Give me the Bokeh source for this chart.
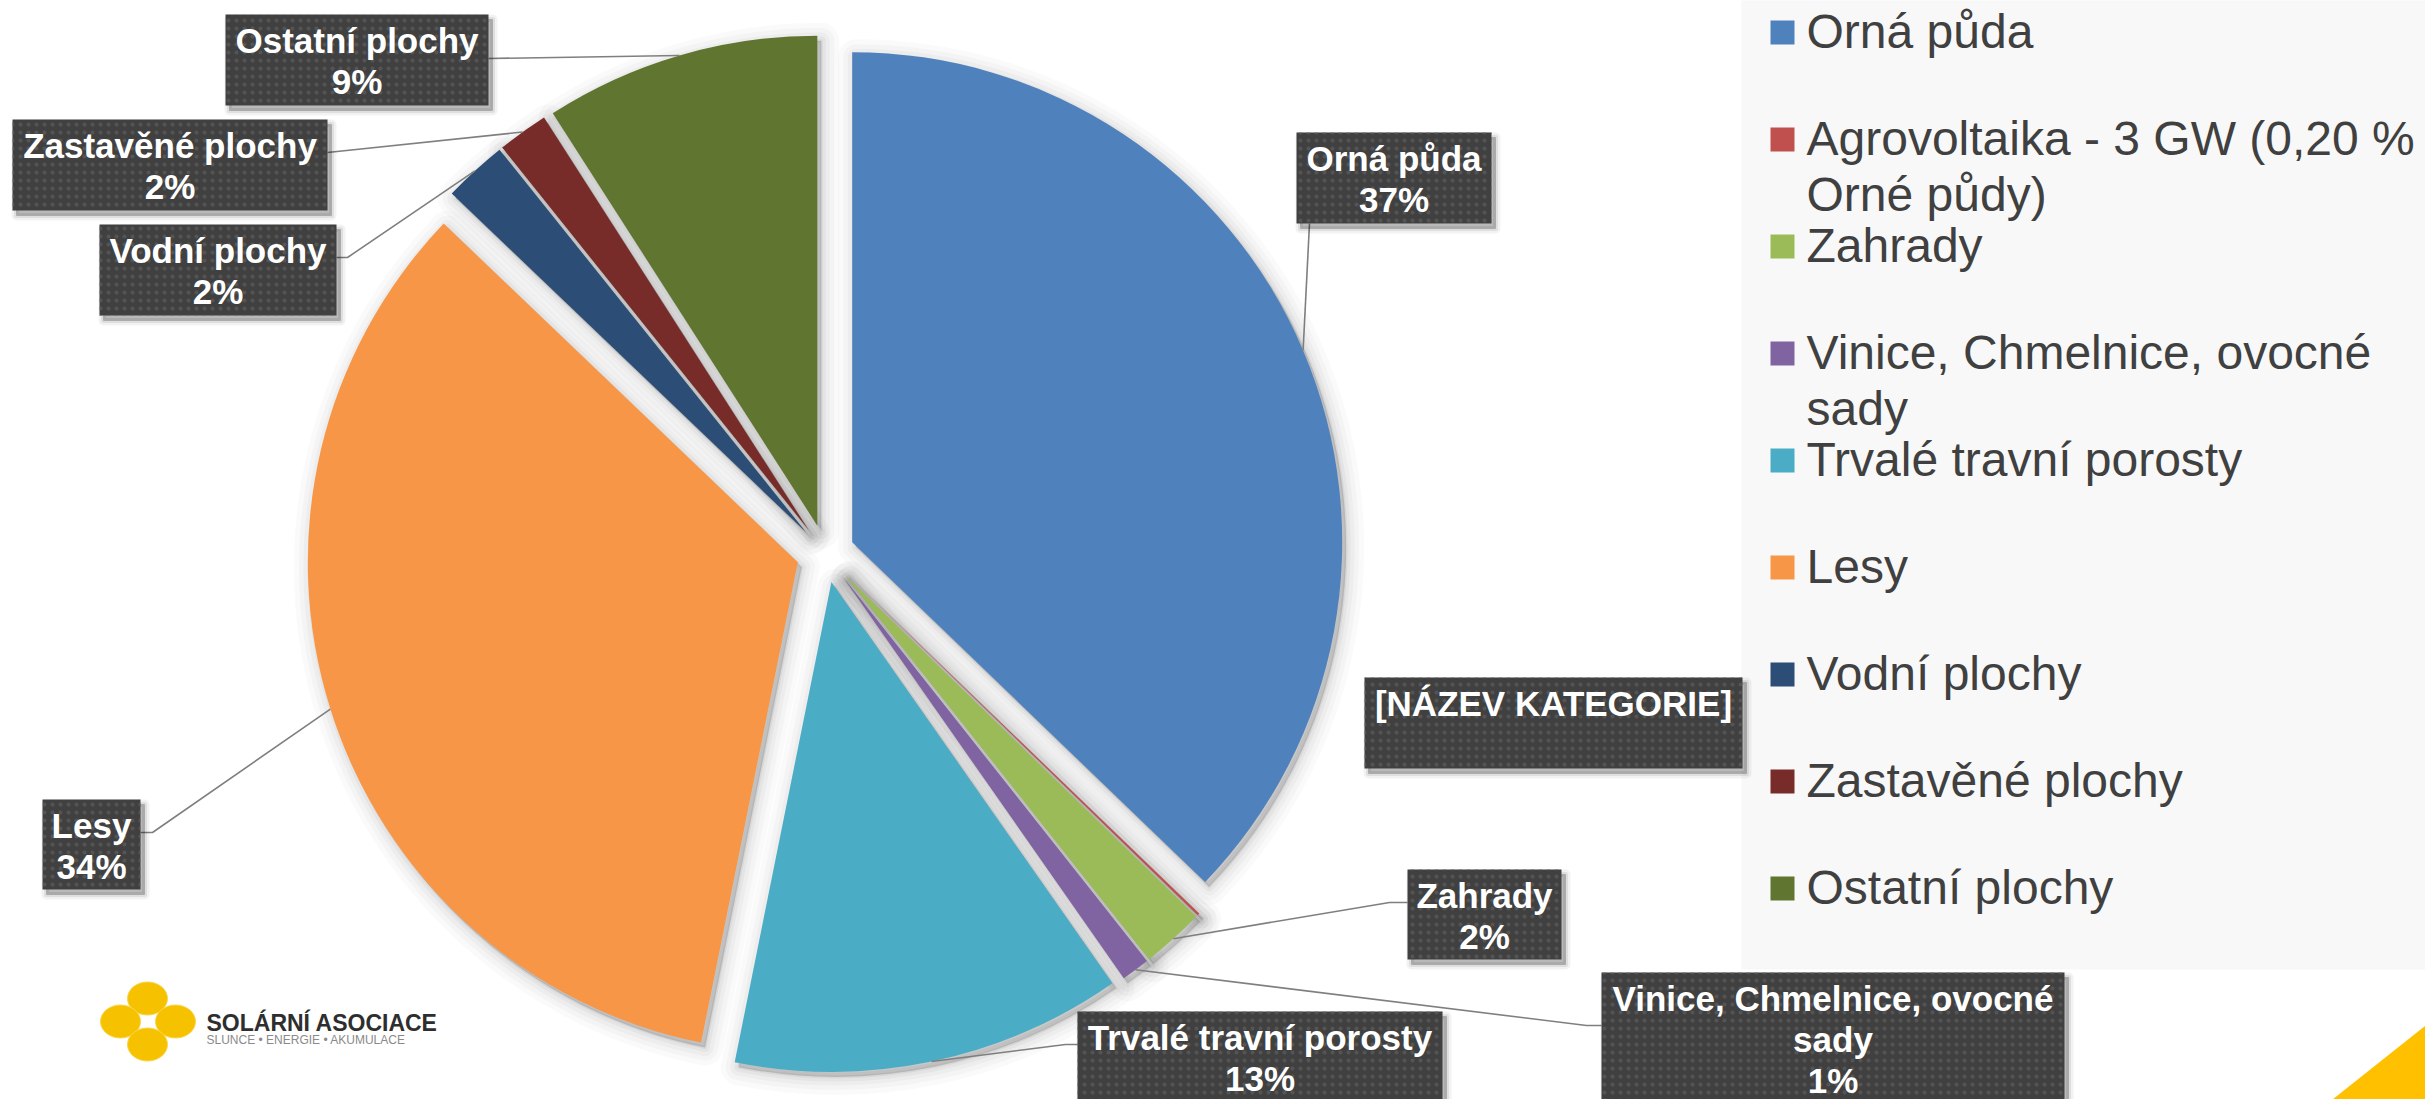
import textwrap
import numpy as np
import pandas as pd
from bokeh.plotting import figure
from bokeh.models import Range1d, ColumnDataSource
from bokeh.core.properties import value
from bokeh.embed import file_html
from bokeh.resources import INLINE

# ---------------- data ----------------
categories = [
    "Orná půda",
    "Agrovoltaika - 3 GW (0,20 % Orné půdy)",
    "Zahrady",
    "Vinice, Chmelnice, ovocné sady",
    "Trvalé travní porosty",
    "Lesy",
    "Vodní plochy",
    "Zastavěné plochy",
    "Ostatní plochy",
]
areas_kha = [2934, 6, 163, 74, 1016, 2680, 166, 132, 716]   # tis. ha
show_percent = [True, False, True, True, True, True, True, True, True]
agro_label = "[NÁZEV KATEGORIE]"

colors = ["#4F81BD", "#C0504D", "#9BBB59", "#8064A2", "#4BACC6",
          "#F79646", "#2C4D75", "#772C2A", "#5F7530"]

# ---------------- layout (reference pixel coords, y down) ----------------
W, H = 2425, 1099
def fy(Y):
    return H - Y

CX, CY = 825, fy(553)
R = 490
EXPLODE = 29

boxes = [
    dict(l=1296, r=1491, t=132, b=223, att=[(1309, 223)]),
    dict(l=1364, r=1742, t=677, b=768, att=None),
    dict(l=1407, r=1561, t=869, b=959, att=[(1407, 902), (1389, 902)]),
    dict(l=1601, r=2064, t=972, b=1110, att=[(1601, 1025), (1586, 1025)]),
    dict(l=1077, r=1442, t=1011, b=1110, att=[(1077, 1044), (1065, 1044)]),
    dict(l=42, r=140, t=799, b=889, att=[(140, 832), (152, 832)]),
    dict(l=99, r=336, t=224, b=315, att=[(336, 257), (347, 257)]),
    dict(l=12, r=327, t=119, b=210, att=[(327, 152)]),
    dict(l=225, r=488, t=14, b=105, att=[(488, 58)]),
]

FONT = value("Liberation Sans")

# ---------------- derived ----------------
df = pd.DataFrame({"cat": categories, "area": areas_kha, "color": colors})
total = df["area"].sum()
df["frac"] = df["area"] / total
df["t_end"] = df["frac"].cumsum() * 2 * np.pi
df["t_start"] = df["t_end"] - df["frac"] * 2 * np.pi
df["t_mid"] = (df["t_end"] + df["t_start"]) / 2
df["start"] = np.pi / 2 - df["t_end"]
df["end"] = np.pi / 2 - df["t_start"]
df["x"] = CX + EXPLODE * np.sin(df["t_mid"])
df["y"] = CY + EXPLODE * np.cos(df["t_mid"])
df["ax"] = df["x"] + R * np.sin(df["t_mid"])
df["ay"] = df["y"] + R * np.cos(df["t_mid"])
df["pct"] = (df["frac"] * 100).round().astype(int).astype(str) + "%"

src = ColumnDataSource(df)
shadow = df.copy()
shadow["x"] = shadow["x"] + 4
shadow["y"] = shadow["y"] - 5
ssrc = ColumnDataSource(shadow)

p = figure(width=W, height=H, output_backend="svg", toolbar_location=None,
           x_range=Range1d(0, W), y_range=Range1d(0, H),
           x_axis_location=None, y_axis_location=None, min_border=0,
           background_fill_color="white", border_fill_color="white")
p.outline_line_color = None
p.grid.visible = False

# legend background
p.quad(left=1741, right=W + 5, top=fy(-5), bottom=fy(969), fill_color="#F8F8F8", line_color=None)

# yellow corner decoration
p.patch([2332, W + 5, W + 5], [fy(1099), fy(1021), fy(1099)], fill_color="#FFC000", line_color=None)

# pie shadows (soft glow)
for lw, a in [(36, 0.018), (26, 0.022), (17, 0.028), (9, 0.035), (3, 0.05)]:
    p.wedge(x="x", y="y", radius=R, start_angle="start", end_angle="end", source=ssrc,
            fill_color="#000000", fill_alpha=a, line_color="#000000", line_alpha=a,
            line_width=lw, line_join="round")

# pie slices
p.wedge(x="x", y="y", radius=R, start_angle="start", end_angle="end", source=src,
        fill_color="color", line_color=None)

# leader lines
xs, ys = [], []
for i, b in enumerate(boxes):
    if b["att"] is None:
        continue
    xs.append([a[0] for a in b["att"]] + [df["ax"][i]])
    ys.append([fy(a[1]) for a in b["att"]] + [df["ay"][i]])
p.multi_line(xs, ys, line_color="#7F7F7F", line_width=1.6)

# label boxes
for i, b in enumerate(boxes):
    for lw, a in [(10, 0.05), (5, 0.08), (1, 0.12)]:
        p.quad(left=b["l"] + 4, right=b["r"] + 4, top=fy(b["t"] + 5), bottom=fy(b["b"] + 5),
               fill_color="#000000", fill_alpha=a, line_color="#000000", line_alpha=a,
               line_width=lw, line_join="round")
    p.quad(left=b["l"], right=b["r"], top=fy(b["t"]), bottom=fy(b["b"]),
           fill_color="#404040", line_color=None,
           hatch_pattern="dot", hatch_color="#5C5C5C", hatch_scale=8, hatch_weight=2, hatch_alpha=0.7)

    if show_percent[i]:
        lines = textwrap.wrap(df["cat"][i], 27) + [df["pct"][i]]
    else:
        lines = [agro_label]
    cxb = (b["l"] + b["r"]) / 2
    for k, ln in enumerate(lines):
        capc = b["t"] + 26 + 41 * k
        p.text(x=[cxb], y=[fy(capc)], text=[ln], text_font=FONT, text_font_style="bold",
               text_font_size="35px", text_color="white", text_align="center",
               text_baseline="alphabetic")

# legend
for i, cat in enumerate(categories):
    capc = 31 + 107 * i
    p.quad(left=1770, right=1794, top=fy(capc + 1 - 12), bottom=fy(capc + 1 + 12),
           fill_color=colors[i], line_color=None)
    for k, ln in enumerate(textwrap.wrap(cat, 27)):
        cc = capc + 56 * k
        p.text(x=[1806], y=[fy(cc)], text=[ln], text_font=FONT,
               text_font_size="48px", text_color="#404040", text_align="left",
               text_baseline="alphabetic")

# logo
lx, ly = 147, fy(1021)
p.ellipse(x=[lx, lx - 27, lx + 28, lx], y=[ly + 23, ly, ly, ly - 23], width=40, height=33,
          fill_color="#F6C200", line_color="#F9D54A", line_width=1)
p.text(x=[206], y=[fy(1022)], text=["SOLÁRNÍ ASOCIACE"], text_font=FONT, text_font_style="bold",
       text_font_size="23px", text_color="#2E2E2E", text_baseline="alphabetic")
p.text(x=[206], y=[fy(1039)], text=["SLUNCE • ENERGIE • AKUMULACE"], text_font=FONT,
       text_font_size="12px", text_color="#8A8A8A", text_baseline="alphabetic")

open("out.html", "w").write(file_html(p, INLINE))
